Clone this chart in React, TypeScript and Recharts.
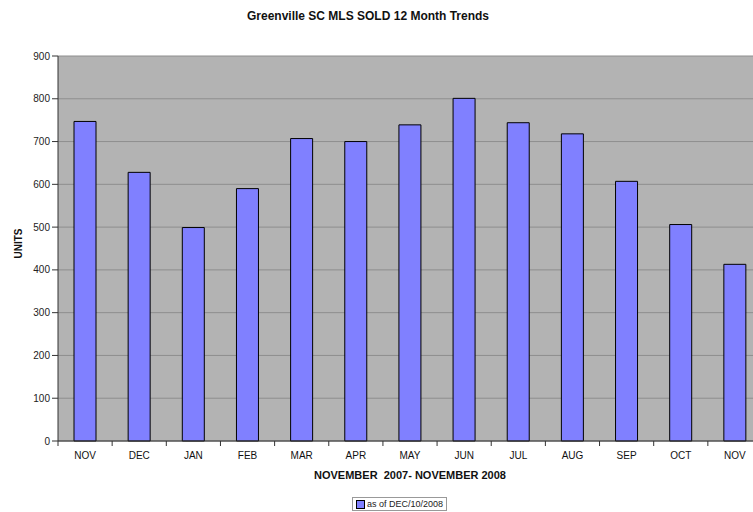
import React from 'react';
import { BarChart, Bar, XAxis, YAxis, CartesianGrid, Legend } from 'recharts';

const months = ['NOV', 'DEC', 'JAN', 'FEB', 'MAR', 'APR', 'MAY', 'JUN', 'JUL', 'AUG', 'SEP', 'OCT', 'NOV'];
const sold = [747, 628, 499, 590, 707, 700, 739, 801, 744, 718, 607, 506, 413];
const yTicks = [0, 100, 200, 300, 400, 500, 600, 700, 800, 900];

const seriesName = 'as of DEC/10/2008';
const data = months.map((m, i) => ({ month: m, units: sold[i] }));

const FONT = "Arial, 'Liberation Sans', sans-serif";
const TICK_SIZE = 6;
const TICK_MARGIN = 5;

function MonthTick(props: any) {
  const { x, y, payload } = props;
  const half = payload?.offset ?? 27;
  const axisY = y - TICK_SIZE - TICK_MARGIN;
  return (
    <g>
      <line x1={x - half} y1={axisY} x2={x - half} y2={axisY + 5} stroke="#333" />
      <text x={x} y={y} dy="0.71em" textAnchor="middle" fontSize={10} fill="#111" fontFamily={FONT}>
        {payload.value}
      </text>
    </g>
  );
}

function UnitsLabel(props: any) {
  const vb = props.viewBox || { y: 56, height: 385 };
  const cy = vb.y + vb.height / 2 - 5;
  return (
    <text x={18} y={cy} transform={`rotate(-90 18 ${cy})`} textAnchor="middle" dominantBaseline="central"
      fontSize={10} fontWeight="bold" fill="#111" fontFamily={FONT}>
      UNITS
    </text>
  );
}

function LegendBox(props: any) {
  const item = props.payload?.[0];
  return (
    <div style={{ border: '1px solid #999', background: '#fff', padding: '0 3px', display: 'flex', alignItems: 'center', height: 12, fontFamily: FONT, fontSize: 9, color: '#222', whiteSpace: 'nowrap' }}>
      <span style={{ display: 'inline-block', width: 7, height: 7, background: item?.color || '#8080ff', border: '1px solid #000', marginRight: 2 }} />
      {item?.value}
    </div>
  );
}

export default function App() {
  return (
    <div style={{ position: 'absolute', left: 0, top: 0, width: 753, height: 512, overflow: 'hidden', background: '#fff' }}>
      <div style={{ position: 'absolute', left: 247, top: 9, fontFamily: FONT, fontSize: 12, fontWeight: 'bold', color: '#111', whiteSpace: 'nowrap' }}>
        Greenville SC MLS SOLD 12 Month Trends
      </div>
      <BarChart width={765} height={512} data={data} margin={{ top: 56, right: 3, bottom: 0, left: 0 }} style={{ fontFamily: FONT }}>
        <CartesianGrid vertical={false} stroke="#8e8e8e" fill="#b3b3b3" />
        <XAxis
          dataKey="month"
          height={71}
          axisLine={{ stroke: '#333' }}
          tickLine={false}
          tickSize={TICK_SIZE}
          tickMargin={TICK_MARGIN}
          interval={0}
          tick={<MonthTick />}
          label={{ value: 'NOVEMBER\u00A0 2007- NOVEMBER 2008', position: 'insideTop', offset: 30, fontSize: 11, fontWeight: 'bold', fill: '#111' }}
        />
        <YAxis
          width={58}
          domain={[0, 900]}
          ticks={yTicks}
          interval={0}
          axisLine={{ stroke: '#333' }}
          tickLine={{ stroke: '#333' }}
          tickSize={6}
          tick={{ fontSize: 10, fill: '#222' }}
          label={<UnitsLabel />}
        />
        <Legend
          layout="horizontal"
          verticalAlign="middle"
          align="center"
          wrapperStyle={{ top: 497, left: 352, width: 'auto' }}
          content={<LegendBox />}
        />
        <Bar dataKey="units" name={seriesName} fill="#8080ff" stroke="#000" strokeWidth={1} barSize={22} isAnimationActive={false} />
      </BarChart>
    </div>
  );
}
